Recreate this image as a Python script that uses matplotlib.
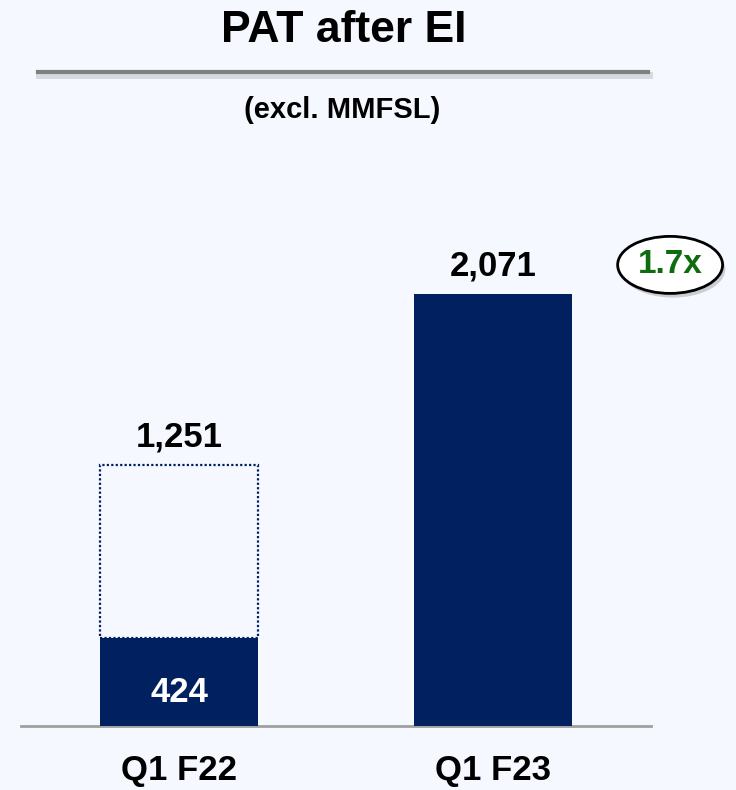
import matplotlib.pyplot as plt
from matplotlib.lines import Line2D
import matplotlib.patheffects as pe

### Data

categories = ['Q1 F22', 'Q1 F23']
pat_total = [1251, 2071]      # dotted outline for Q1 F22, solid for Q1 F23
pat_filled = [424, 2071]      # solid navy part
total_labels = ['1,251', '2,071']
filled_label = '424'
growth_label = '1.7x'

navy = '#002060'
bg = '#F5F8FF'

plt.rcParams['font.family'] = ['Liberation Sans', 'DejaVu Sans']
plt.rcParams['font.weight'] = 'bold'

fig = plt.figure(figsize=(7.36, 7.9), dpi=100, facecolor=bg)
ax = fig.add_axes([21/736, 1 - 726/790, 630/736, 526/790])
ax.set_facecolor(bg)

x = list(range(len(categories)))
w = 0.503

# dotted outline for the part above the filled portion, then the filled bars
ax.bar(x[0], pat_total[0] - pat_filled[0], bottom=pat_filled[0], width=w,
       facecolor='none', edgecolor=navy, linestyle=(0, (1, 1)), linewidth=1.6)
ax.bar(x, pat_filled, width=w, color=navy, edgecolor='none', zorder=3)

for i in x:
    ax.annotate(total_labels[i], (i, pat_total[i]), xytext=(0, 8),
                textcoords='offset points', ha='center', va='bottom',
                fontsize=25, fontweight='bold', color='black')

ax.annotate(filled_label, (x[0], pat_filled[0] / 2), xytext=(0, -8),
            textcoords='offset points', ha='center', va='center',
            fontsize=25, fontweight='bold', color='white', zorder=4)

# growth bubble
ax.annotate(growth_label, (x[1], pat_total[1]), xytext=(127.5, 21),
            textcoords='offset points', ha='center', va='center',
            fontsize=24, fontweight='bold', color='#0E6B0E',
            bbox=dict(boxstyle='ellipse,pad=0.14', fc='white', ec='black', lw=2,
                      path_effects=[pe.withSimplePatchShadow(offset=(2, -3), alpha=0.25)]),
            annotation_clip=False)

ax.set_xlim(-0.503, 1.503)
ax.set_ylim(0, 2522)
ax.set_xticks(x)
ax.set_xticklabels(categories, fontsize=25, fontweight='bold')
ax.tick_params(axis='x', length=0, pad=20)
ax.set_yticks([])
for s in ['top', 'right', 'left']:
    ax.spines[s].set_visible(False)
ax.spines['bottom'].set_color('#A0A0A0')
ax.spines['bottom'].set_linewidth(2)

# title block
fig.text(344/736, 1 - 31/790, 'PAT after EI', ha='center', va='center',
         fontsize=32, fontweight='bold')
line = Line2D([38/736, 648/736], [1 - 72/790, 1 - 72/790], transform=fig.transFigure,
              color='#808080', linewidth=3,
              path_effects=[pe.SimpleLineShadow(offset=(1, -2), alpha=0.12, linewidth=5),
                            pe.Normal()])
fig.add_artist(line)
fig.text(342/736, 1 - 110/790, '(excl. MMFSL)', ha='center', va='center',
         fontsize=21, fontweight='bold')

plt.savefig('out.png', dpi=100, facecolor=bg)
